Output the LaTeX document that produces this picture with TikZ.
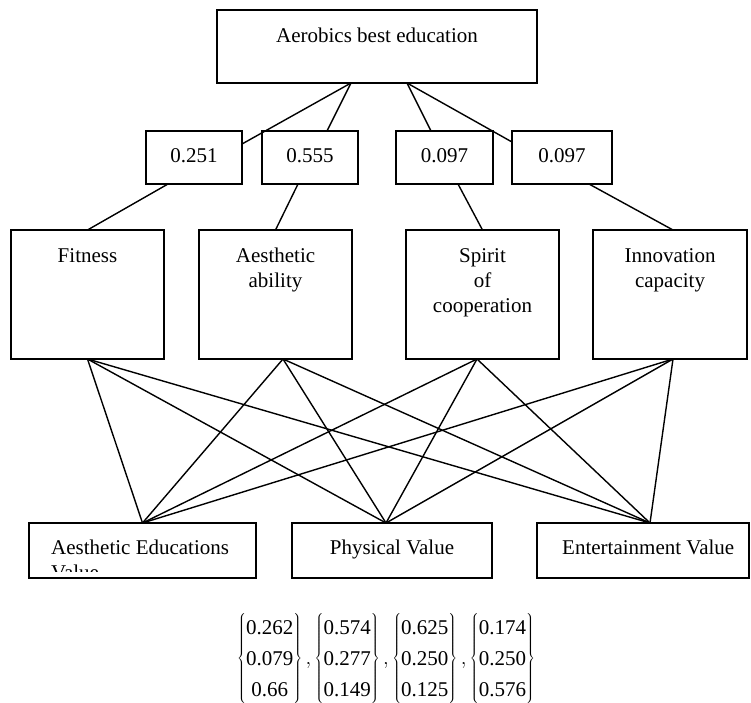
\documentclass[tikz,border=0pt]{standalone}
\usepackage{fontspec}
\setmainfont{Liberation Serif}
\renewcommand{\arraystretch}{1.24}
\begin{document}
\begin{tikzpicture}[x=1pt,y=-1pt,
  box/.style={draw, line width=1.4pt, inner sep=0pt, outer sep=0pt},
  lbl/.style={font=\fontsize{21}{25}\selectfont, inner sep=0pt, anchor=base},
  mlbl/.style={lbl, text width=150pt, align=center},
  con/.style={line width=1.4pt}]
\useasboundingbox (0,0) rectangle (751,702);
% boxes
\node[box, minimum width=320pt, minimum height=73pt] (top) at (377,46.5) {};
\node[box, minimum width=96pt, minimum height=53pt] (w1) at (194,157.5) {};
\node[box, minimum width=96pt, minimum height=53pt] (w2) at (310,157.5) {};
\node[box, minimum width=97pt, minimum height=53pt] (w3) at (444.5,157.5) {};
\node[box, minimum width=100pt, minimum height=53pt] (w4) at (562,157.5) {};
\node[box, minimum width=153pt, minimum height=129pt] (c1) at (87.5,294.5) {};
\node[box, minimum width=153pt, minimum height=129pt] (c2) at (275.5,294.5) {};
\node[box, minimum width=153pt, minimum height=129pt] (c3) at (482.5,294.5) {};
\node[box, minimum width=154pt, minimum height=129pt] (c4) at (670,294.5) {};
\node[box, minimum width=227pt, minimum height=55pt] (b1) at (142.5,550.5) {};
\node[box, minimum width=200pt, minimum height=55pt] (b2) at (392,550.5) {};
\node[box, minimum width=212pt, minimum height=55pt] (b3) at (643,550.5) {};
% texts
\node[lbl] (topt) at (377,42) {Aerobics best education};
\node[lbl] (w1t) at (194,162) {0.251};
\node[lbl] (w2t) at (310,162) {0.555};
\node[lbl] (w3t) at (444.5,162) {0.097};
\node[lbl] (w4t) at (562,162) {0.097};
\node[mlbl] (c1t) at (87.5,262) {Fitness};
\node[mlbl] (c2t) at (275.5,262) {Aesthetic\\ability};
\node[mlbl] (c3t) at (482.5,262) {Spirit\\of\\cooperation};
\node[mlbl] (c4t) at (670,262) {Innovation\\capacity};
\begin{scope}
  \clip (31,525) rectangle (254,571);
  \node[lbl, anchor=base west, text width=200pt, align=flush left] (b1t) at (51,554) {Aesthetic Educations\\Value};
\end{scope}
\node[lbl] (b2t) at (392,554) {Physical Value};
\node[lbl, anchor=base west] (b3t) at (562,554) {Entertainment Value};
% connector end points
\path (top.south) ++(-26,0) coordinate (tL);
\path (top.south) ++(30,0) coordinate (tR);
\path (w1.east) ++(0,-13.5) coordinate (w1e);
\path (w2.north) ++(17,0) coordinate (w2n);
\path (w3.north) ++(-13.5,0) coordinate (w3n);
\path (w4.west) ++(0,-15.5) coordinate (w4w);
\path (w1.south) ++(-26,0) coordinate (w1s);
\path (w2.south) ++(-12,0) coordinate (w2s);
\path (w3.south) ++(13.5,0) coordinate (w3s);
\path (w4.south) ++(27,0) coordinate (w4s);
\path (c1.north) coordinate (c1n);
\path (c2.north) coordinate (c2n);
\path (c3.north) coordinate (c3n);
\path (c4.north) ++(3,0) coordinate (c4n);
\path (c1.south) coordinate (c1s);
\path (c2.south) ++(7.5,0) coordinate (c2s);
\path (c3.south) ++(-5.5,0) coordinate (c3s);
\path (c4.south) ++(3,0) coordinate (c4s);
\path (b1.north) coordinate (b1n);
\path (b2.north) ++(-6,0) coordinate (b2n);
\path (b3.north) ++(7,0) coordinate (b3n);
% connectors
\draw[con] (tL) -- (w1e);
\draw[con] (tL) -- (w2n);
\draw[con] (tR) -- (w3n);
\draw[con] (tR) -- (w4w);
\draw[con] (w1s) -- (c1n);
\draw[con] (w2s) -- (c2n);
\draw[con] (w3s) -- (c3n);
\draw[con] (w4s) -- (c4n);
\foreach \c in {c1s,c2s,c3s,c4s}{
  \foreach \b in {b1n,b2n,b3n}{
    \draw[con] (\c) -- (\b);
  }
}
% vectors
\node[lbl] (mat) at (386,664) {$\left\{\begin{tabular}{@{}c@{}}0.262\\0.079\\0.66\end{tabular}\right\},\left\{\begin{tabular}{@{}c@{}}0.574\\0.277\\0.149\end{tabular}\right\},\left\{\begin{tabular}{@{}c@{}}0.625\\0.250\\0.125\end{tabular}\right\},\left\{\begin{tabular}{@{}c@{}}0.174\\0.250\\0.576\end{tabular}\right\}$};
\end{tikzpicture}
\end{document}
